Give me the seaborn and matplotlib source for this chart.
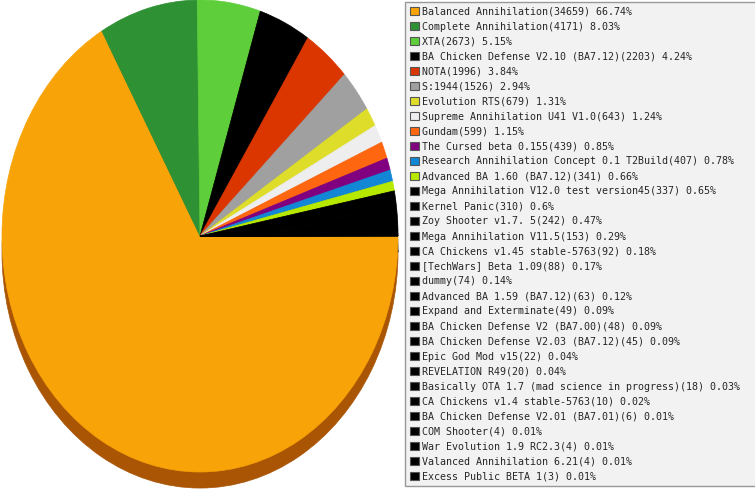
import matplotlib
matplotlib.use("Agg")
import matplotlib.pyplot as plt
import seaborn as sns
import numpy as np
from matplotlib.colors import to_rgb

# Mod usage counts
mods = ['Balanced Annihilation', 'Complete Annihilation', 'XTA',
        'BA Chicken Defense V2.10 (BA7.12)', 'NOTA', 'S:1944', 'Evolution RTS',
        'Supreme Annihilation U41 V1.0', 'Gundam', 'The Cursed beta 0.155',
        'Research Annihilation Concept 0.1 T2Build', 'Advanced BA 1.60 (BA7.12)',
        'Mega Annihilation V12.0 test version45', 'Kernel Panic', 'Zoy Shooter v1.7. 5',
        'Mega Annihilation V11.5', 'CA Chickens v1.45 stable-5763', '[TechWars] Beta 1.09',
        'dummy', 'Advanced BA 1.59 (BA7.12)', 'Expand and Exterminate',
        'BA Chicken Defense V2 (BA7.00)', 'BA Chicken Defense V2.03 (BA7.12)',
        'Epic God Mod v15', 'REVELATION R49', 'Basically OTA 1.7 (mad science in progress)',
        'CA Chickens v1.4 stable-5763', 'BA Chicken Defense V2.01 (BA7.01)', 'COM Shooter',
        'War Evolution 1.9 RC2.3', 'Valanced Annihilation 6.21', 'Excess Public BETA 1']
counts = [34659, 4171, 2673, 2203, 1996, 1526, 679, 643, 599, 439, 407, 341, 337, 310,
          242, 153, 92, 88, 74, 63, 49, 48, 45, 22, 20, 18, 10, 6, 4, 4, 4, 3]
top_colors = ['#F8A308', '#2E9134', '#5ECE3A', '#000000', '#DB3600', '#A0A0A0',
              '#DEDE2A', '#EEEEEE', '#FF6610', '#800080', '#1287D6', '#B7E800']
colors = top_colors + ['#000000'] * (len(counts) - len(top_colors))

total = sum(counts)
labels = [f"{m}({c}) {round(100 * c / total, 2):g}%" for m, c in zip(mods, counts)]

sns.set_theme(style='white')
plt.rcParams['font.family'] = ['DejaVu Sans Mono', 'DejaVu Sans']

fig = plt.figure(figsize=(7.55, 4.9), dpi=100)
ax = fig.add_axes([0, 0, 400 / 755, 1])

# shadow (3D depth) drawn as a darker pie shifted down
shade = [tuple(np.array(to_rgb(c)) * np.array([0.68, 0.52, 0.5])) for c in colors]
shadow, _ = ax.pie(counts, colors=shade, startangle=0, counterclock=False,
                   center=(0, -0.068), wedgeprops={'linewidth': 0})
wedges, _ = ax.pie(counts, colors=colors, startangle=0, counterclock=False,
                   wedgeprops={'linewidth': 0})
for w in list(shadow) + list(wedges):
    w.set_edgecolor(w.get_facecolor())
    w.set_linewidth(0.5)

ax.set_aspect('auto')
ax.set_xlim(-200 / 198, 200 / 198)
ax.set_ylim(-254 / 236, 1.0)
ax.axis('off')

leg = fig.legend(wedges, labels, loc='upper left', mode='expand',
                 bbox_to_anchor=(405 / 755, 0, 370 / 755, 488 / 490),
                 borderaxespad=0, fontsize=7.2, labelspacing=0.5,
                 handlelength=0.9, handleheight=0.9, handletextpad=0.35,
                 borderpad=0.45, frameon=True, fancybox=False)
frame = leg.get_frame()
frame.set_facecolor('#F2F2F2')
frame.set_edgecolor('#999999')
frame.set_linewidth(1)
frame.set_alpha(1)
for h in leg.legend_handles:
    h.set_edgecolor('#555555')
    h.set_linewidth(0.8)

fig.savefig('out.png', dpi=100)
